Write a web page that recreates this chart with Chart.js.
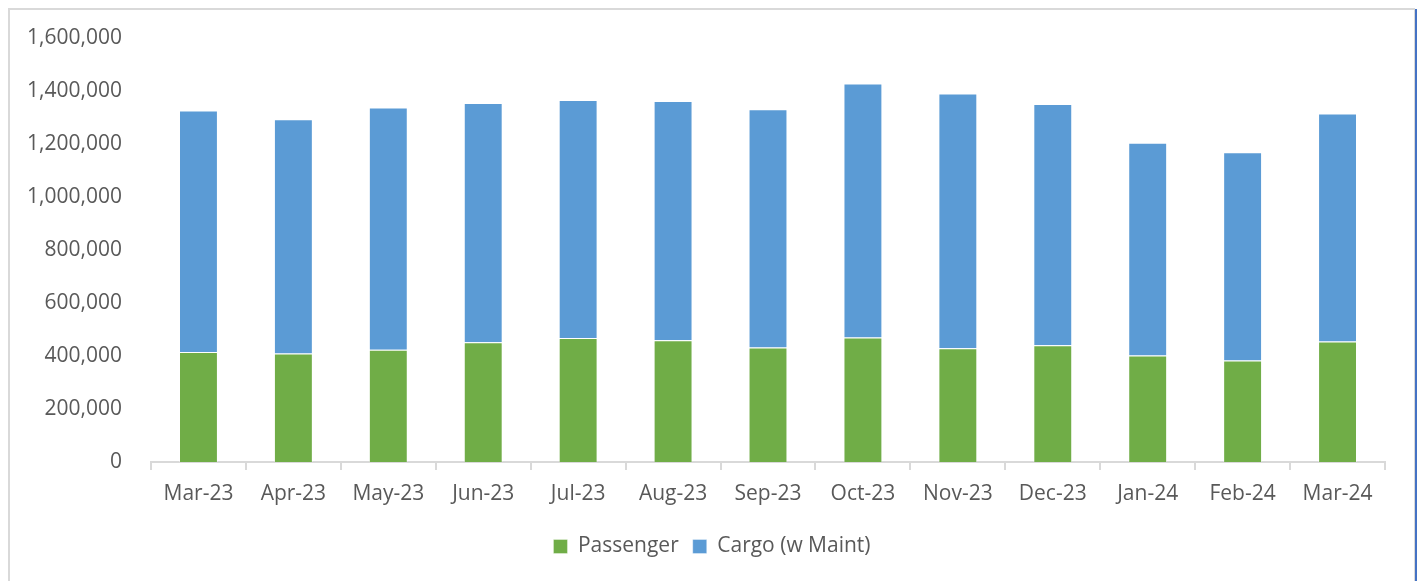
<!DOCTYPE html>
<html>
<head>
<meta charset="utf-8">
<script src="https://cdn.jsdelivr.net/npm/chart.js@4"></script>
<style>
  html, body { margin: 0; padding: 0; background: #fff; }
  #wrap { position: relative; width: 1424px; height: 581px; overflow: hidden; }
  #frame {
    position: absolute; left: 8px; top: 8px; width: 1404px; height: 600px;
    border-left: 2px solid #d9d9d9; border-top: 2px solid #d9d9d9; border-right: 1px solid #d9d9d9;
  }
  #edge { position: absolute; left: 1415px; top: 9px; width: 2px; height: 600px; background: #4472c4; }
  #chart { position: absolute; left: 0; top: 0; }
</style>
</head>
<body>
<div id="wrap">
  <div id="frame"></div>
  <div id="edge"></div>
  <canvas id="chart" width="1424" height="581"></canvas>
</div>
<script>
const months = ['Mar-23', 'Apr-23', 'May-23', 'Jun-23', 'Jul-23', 'Aug-23', 'Sep-23',
  'Oct-23', 'Nov-23', 'Dec-23', 'Jan-24', 'Feb-24', 'Mar-24'];
const passenger = [415000, 409000, 424000, 452000, 468000, 459000, 432000,
  470000, 429000, 441000, 402000, 383000, 455000];
const cargo = [911000, 884000, 914000, 903000, 898000, 903000, 899000,
  958000, 962000, 910000, 803000, 786000, 860000];

const fmt = new Intl.NumberFormat('en-US');
const textColor = '#595959';
const lineColor = '#d9d9d9';

Chart.defaults.font.family = '"Open Sans", sans-serif';
Chart.defaults.color = textColor;

new Chart(document.getElementById('chart'), {
  type: 'bar',
  data: {
    labels: months,
    datasets: [
      {
        label: 'Passenger',
        data: passenger,
        backgroundColor: '#70ad47',
        borderColor: 'rgba(255,255,255,0.35)',
        borderWidth: 1,
        categoryPercentage: 1,
        barPercentage: 0.41
      },
      {
        label: 'Cargo (w Maint)',
        data: cargo,
        backgroundColor: '#5b9bd5',
        borderColor: 'rgba(255,255,255,0.35)',
        borderWidth: 1,
        categoryPercentage: 1,
        barPercentage: 0.41
      }
    ]
  },
  options: {
    responsive: false,
    animation: false,
    layout: { padding: { left: 0, right: 0, top: 38, bottom: 14 } },
    plugins: {
      legend: {
        position: 'bottom',
        labels: {
          boxWidth: 14,
          boxHeight: 14,
          padding: 14,
          color: textColor,
          font: { size: 21 }
        }
      },
      tooltip: { enabled: false }
    },
    scales: {
      x: {
        stacked: true,
        grid: {
          display: true,
          drawOnChartArea: false,
          drawTicks: true,
          tickLength: 8,
          color: lineColor,
          lineWidth: 2
        },
        border: { display: true, color: lineColor, width: 2 },
        ticks: { padding: 11, color: textColor, font: { size: 21 }, maxRotation: 0, autoSkip: false },
        afterFit: scale => { scale.height = 60; }
      },
      y: {
        stacked: true,
        min: 0,
        max: 1600000,
        grid: { display: false, drawTicks: false },
        border: { display: false },
        ticks: {
          stepSize: 200000,
          padding: 29,
          color: textColor,
          font: { size: 21 },
          callback: value => fmt.format(value)
        },
        afterFit: scale => {
          scale.width = 151;
          scale.paddingTop = 10;
          scale.paddingBottom = 10;
        }
      },
      // empty right gutter so the legend centres on the whole frame
      gutter: {
        type: 'linear',
        position: 'right',
        min: 0,
        max: 1,
        grid: { display: false, drawTicks: false },
        border: { display: false },
        ticks: { display: false },
        afterFit: scale => {
          scale.width = 39;
          scale.paddingTop = 0;
          scale.paddingBottom = 0;
        }
      }
    }
  }
});
</script>
</body>
</html>
